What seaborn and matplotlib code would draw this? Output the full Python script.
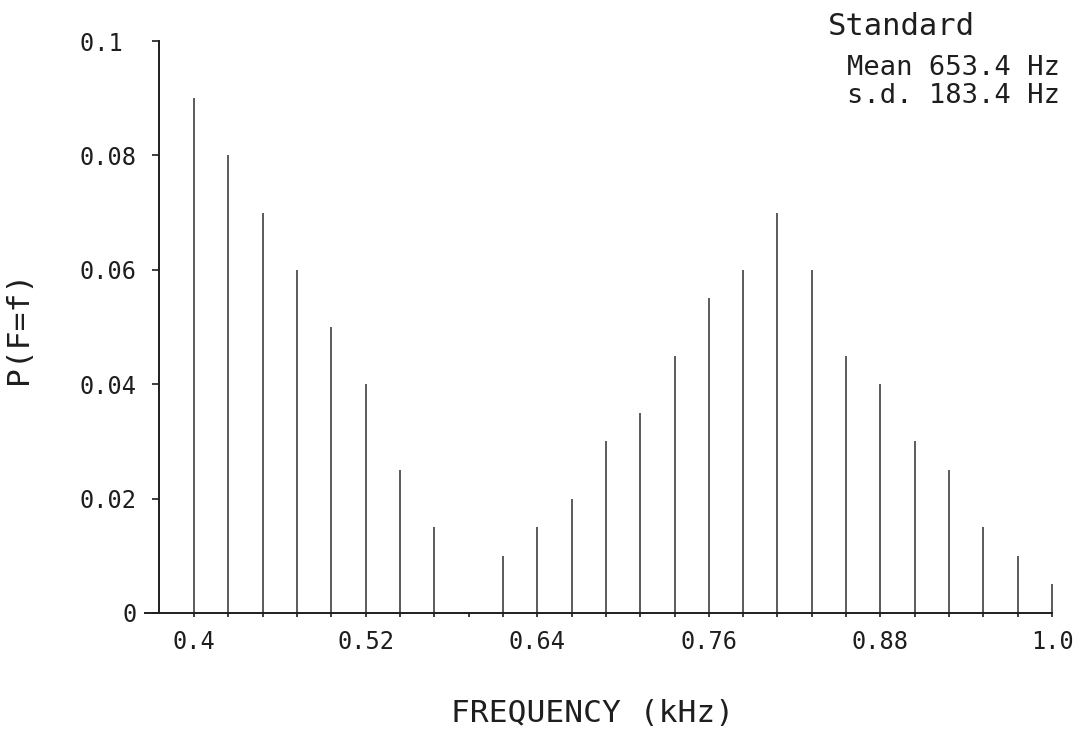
import matplotlib
matplotlib.use("Agg")
import matplotlib.pyplot as plt
import seaborn as sns
import pandas as pd

# Discrete frequency distribution (kHz) and its probabilities
freqs = [0.400, 0.424, 0.448, 0.472, 0.496, 0.520, 0.544, 0.568, 0.592,
         0.616, 0.640, 0.664, 0.688, 0.712, 0.736, 0.760, 0.784, 0.808,
         0.832, 0.856, 0.880, 0.904, 0.928, 0.952, 0.976, 1.000]
probs = [0.090, 0.080, 0.070, 0.060, 0.050, 0.040, 0.025, 0.015, 0.000,
         0.010, 0.015, 0.020, 0.030, 0.035, 0.045, 0.055, 0.060, 0.070,
         0.060, 0.045, 0.040, 0.030, 0.025, 0.015, 0.010, 0.005]

x_tick_labels = ["0.4", "", "", "", "", "0.52", "", "", "", "", "0.64", "", "", "", "",
                 "0.76", "", "", "", "", "0.88", "", "", "", "", "1.0"]
y_ticks = [0.0, 0.02, 0.04, 0.06, 0.08, 0.1]
y_tick_labels = ["0", "0.02", "0.04", "0.06", "0.08", "0.1 "]

title_text = "Standard"
mean_text = "Mean 653.4 Hz"
sd_text = "s.d. 183.4 Hz"

sns.set_theme(style="white")
plt.rcParams["font.family"] = ["DejaVu Sans Mono", "DejaVu Sans"]

ink = "#1e1e1e"
stem_ink = "#2a2a2a"
df = pd.DataFrame({"freq": freqs, "prob": probs})

fig = plt.figure(figsize=(10.92, 7.32), dpi=100)
ax = fig.add_axes([0.1328, 0.16257, 0.8332, 0.7814])

# Vertical stems: zero-width bars whose outline forms a single line
sns.barplot(data=df, x="freq", y="prob", native_scale=True, width=0,
            color=stem_ink, saturation=1, edgecolor=stem_ink, linewidth=1.08, ax=ax)
for bar in ax.patches:
    bar.set_snap(True)

ax.set_xlim(0.3657, 1.002)
ax.set_ylim(0, 0.1)

for side in ("top", "right"):
    ax.spines[side].set_visible(False)
ax.spines["left"].set_position(("data", 0.3755))
ax.spines["left"].set_bounds(0, 0.1)
ax.spines["bottom"].set_bounds(0.3657, 1.0)
for side in ("left", "bottom"):
    ax.spines[side].set_color(ink)
    ax.spines[side].set_linewidth(1.4)

ax.set_xticks(freqs)
ax.set_xticklabels(x_tick_labels)
ax.set_yticks(y_ticks)
ax.set_yticklabels(y_tick_labels)
ax.tick_params(axis="x", direction="out", length=3, width=1.2, color=ink,
               pad=9, labelsize=17, labelcolor=ink, bottom=True)
ax.tick_params(axis="y", direction="out", length=5, width=1.2, color=ink,
               pad=11, labelsize=17, labelcolor=ink, left=True)

ax.set_xlabel("FREQUENCY (kHz)", fontsize=22.5, color=ink)
ax.xaxis.set_label_coords(0.492, -0.150)
ax.set_ylabel("P(F=f)", fontsize=22.5, color=ink)
ax.yaxis.set_label_coords(-0.123, 0.50)

fig.text(0.7582, 0.9522, title_text, ha="left", va="baseline", fontsize=22, color=ink)
fig.text(0.7757, 0.8975, mean_text, ha="left", va="baseline", fontsize=19.5, color=ink)
fig.text(0.7757, 0.8593, sd_text, ha="left", va="baseline", fontsize=19.5, color=ink)

fig.savefig("out.png", dpi=100, facecolor="white")
